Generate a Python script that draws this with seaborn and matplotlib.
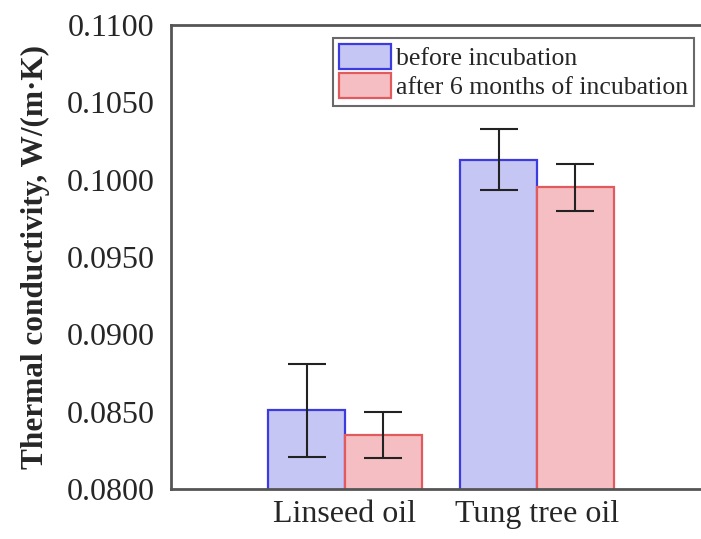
import numpy as np
import pandas as pd
import matplotlib
matplotlib.use("Agg")
import matplotlib.pyplot as plt
import seaborn as sns

# Thermal conductivity of oil-impregnated samples
oils = ["Linseed oil", "Tung tree oil"]
conditions = ["before incubation", "after 6 months of incubation"]
before_mean = [0.0851, 0.1013]
before_err = [0.0030, 0.0020]
after_mean = [0.0835, 0.0995]
after_err = [0.0015, 0.0015]

fills = ["#c6c6f4", "#f5bec2"]
edges = ["#3b3be0", "#e05a5e"]

df = pd.DataFrame({
    "oil": oils * 2,
    "condition": [conditions[0]] * 2 + [conditions[1]] * 2,
    "k": before_mean + after_mean,
})
errs = [before_err, after_err]

sns.set_style("white")
plt.rcParams["font.family"] = ["Liberation Serif", "DejaVu Serif"]

fig = plt.figure(figsize=(7.01, 5.39), dpi=100)
ax = fig.add_axes([0.244, 0.0928, 0.783, 0.8608])

sns.barplot(data=df, x="oil", y="k", hue="condition", order=oils,
            hue_order=conditions, palette=fills, saturation=1,
            errorbar=None, width=0.8, ax=ax, zorder=2)

bar_containers = list(ax.containers)
for i, cont in enumerate(bar_containers):
    xs = []
    for bar in cont:
        bar.set_edgecolor(edges[i])
        bar.set_linewidth(1.6)
        xs.append(bar.get_x() + bar.get_width() / 2)
    ax.errorbar(xs, df[df["condition"] == conditions[i]]["k"].values,
                yerr=errs[i], fmt="none", ecolor="#222222",
                elinewidth=1.5, capsize=14, capthick=1.5, zorder=3)

ax.set_ylim(0.08, 0.11)
ax.set_xlim(-0.906, 1.953)
ax.set_yticks(np.arange(0.08, 0.1101, 0.005))
ax.yaxis.set_major_formatter(matplotlib.ticker.FormatStrFormatter("%.4f"))
ax.tick_params(axis="y", direction="in", length=4, width=1.2,
               color="#555555", labelsize=23, pad=12)
ax.tick_params(axis="x", length=0, labelsize=23, pad=8)
ax.set_xlabel("")
ax.set_ylabel("Thermal conductivity, W/(m·K)", fontsize=22.5,
              fontweight="bold", labelpad=12)

for side in ["left", "top", "bottom"]:
    ax.spines[side].set_color("#555555")
    ax.spines[side].set_linewidth(2)
ax.spines["right"].set_visible(False)

leg = ax.legend(loc="upper left", bbox_to_anchor=(0.295, 0.972),
                fontsize=18.5, frameon=True, fancybox=False,
                edgecolor="#444444", handlelength=2.0, handleheight=1.1,
                handletextpad=0.2, borderpad=0.25, labelspacing=0.1,
                borderaxespad=0)
leg.get_frame().set_linewidth(1.5)
for i, h in enumerate(leg.legend_handles):
    h.set_edgecolor(edges[i])
    h.set_linewidth(1.6)

fig.savefig("out.png", dpi=100)
